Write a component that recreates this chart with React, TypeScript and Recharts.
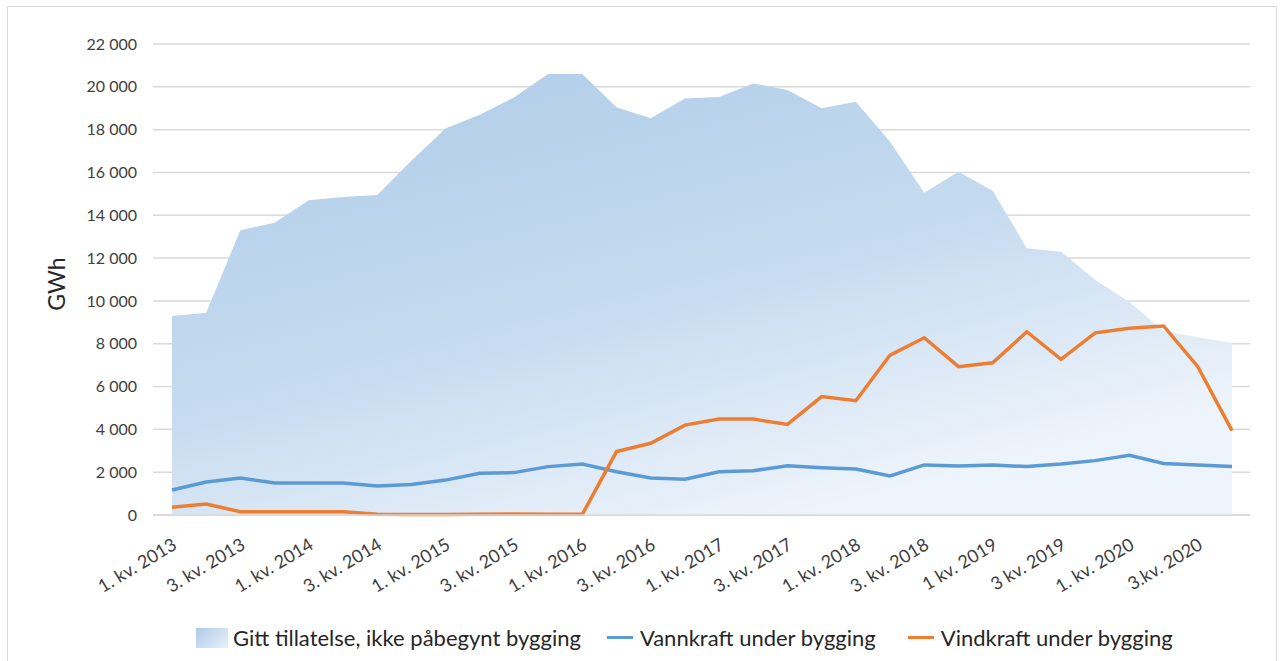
import React from 'react';
import { ComposedChart, Area, Line, XAxis, YAxis, CartesianGrid, Legend } from 'recharts';

// Kvartaler 2013-2020 (bare annenhver vises på aksen)
const quarters = [
  '1. kv. 2013', '2. kv. 2013', '3. kv. 2013', '4. kv. 2013',
  '1. kv. 2014', '2. kv. 2014', '3. kv. 2014', '4. kv. 2014',
  '1. kv. 2015', '2. kv. 2015', '3. kv. 2015', '4. kv. 2015',
  '1. kv. 2016', '2. kv. 2016', '3. kv. 2016', '4. kv. 2016',
  '1. kv. 2017', '2. kv. 2017', '3. kv. 2017', '4. kv. 2017',
  '1. kv. 2018', '2. kv. 2018', '3. kv. 2018', '4. kv. 2018',
  '1 kv. 2019', '2 kv. 2019', '3 kv. 2019', '4 kv. 2019',
  '1. kv. 2020', '2. kv. 2020', '3.kv. 2020', '4.kv. 2020',
];

const gittTillatelse = [
  9300, 9450, 13300, 13650, 14700, 14850, 14950, 16550,
  18050, 18700, 19500, 20600, 20600, 19050, 18530, 19450,
  19530, 20160, 19850, 19000, 19300, 17440, 15050, 16030,
  15150, 12460, 12300, 10980, 9950, 8600, 8300, 8030,
];

const vannkraft = [
  1170, 1540, 1730, 1490, 1490, 1490, 1350, 1430,
  1630, 1950, 1980, 2260, 2380, 2020, 1730, 1670,
  2020, 2070, 2300, 2210, 2150, 1820, 2340, 2290,
  2340, 2260, 2380, 2540, 2790, 2410, 2340, 2260,
];

const vindkraft = [
  360, 510, 155, 155, 155, 155, 30, 20,
  25, 30, 50, 30, 30, 2960, 3350, 4200,
  4480, 4480, 4230, 5530, 5340, 7470, 8280, 6930,
  7110, 8560, 7270, 8510, 8720, 8830, 6930, 3940,
];

const yTicks = [0, 2000, 4000, 6000, 8000, 10000, 12000, 14000, 16000, 18000, 20000, 22000];

const data = quarters.map((q, i) => ({
  quarter: q,
  gitt: gittTillatelse[i],
  vann: vannkraft[i],
  vind: vindkraft[i],
}));

const FONT = 'Lato, "Open Sans", sans-serif';
const BLUE = '#5b9bd5';
const ORANGE = '#ed7d31';

const fmt = (v: number) =>
  v >= 1000 ? `${Math.floor(v / 1000)} ${String(v % 1000).padStart(3, '0')}` : String(v);

const QuarterTick = (props: any) => {
  const { x, y, payload } = props;
  const tx = x + 6;
  const ty = y + 25;
  return (
    <text
      x={tx}
      y={ty}
      transform={`rotate(-31, ${tx}, ${ty})`}
      textAnchor="end"
      fontSize={18}
      fill="#404040"
      fontFamily={FONT}
    >
      {payload.value}
    </text>
  );
};

const YLabel = () => (
  <text
    x={65}
    y={284}
    transform="rotate(-90, 65, 284)"
    textAnchor="middle"
    fontSize={23}
    fill="#262626"
    fontFamily={FONT}
  >
    GWh
  </text>
);

const LegendContent = () => (
  <div
    style={{
      display: 'flex',
      alignItems: 'center',
      height: 71,
      paddingTop: 24,
      paddingLeft: 196,
      boxSizing: 'border-box',
      fontFamily: FONT,
      fontSize: 22,
      color: '#262626',
      whiteSpace: 'nowrap',
    }}
  >
    <span style={{ display: 'inline-block', width: 32, height: 20, background: 'linear-gradient(135deg, #aecbe8, #e8f1fa)', marginRight: 5 }} />
    <span style={{ marginRight: 26 }}>Gitt tillatelse, ikke påbegynt bygging</span>
    <span style={{ display: 'inline-block', width: 26, height: 3, background: BLUE, marginRight: 7 }} />
    <span style={{ marginRight: 32 }}>Vannkraft under bygging</span>
    <span style={{ display: 'inline-block', width: 26, height: 3, background: ORANGE, marginRight: 7 }} />
    <span>Vindkraft under bygging</span>
  </div>
);

export default function App() {
  return (
    <div style={{ position: 'fixed', left: 0, top: 0, width: 1282, height: 661, background: '#fff' }}>
      <div
        style={{
          position: 'absolute',
          left: 7,
          top: 6,
          width: 1270,
          height: 660,
          border: '1px solid #d9d9d9',
          boxSizing: 'border-box',
        }}
      />
      <div style={{ position: 'absolute', left: 0, top: 0 }}>
        <ComposedChart
          width={1282}
          height={661}
          data={data}
          margin={{ top: 44, right: 32, bottom: 0, left: 0 }}
        >
          <defs>
            <linearGradient id="gittFill" x1="0" y1="0" x2="0.6" y2="1">
              <stop offset="0%" stopColor="#aecbe8" />
              <stop offset="55%" stopColor="#c4daef" />
              <stop offset="100%" stopColor="#eef4fb" />
            </linearGradient>
          </defs>
          <CartesianGrid vertical={false} stroke="#d9d9d9" strokeWidth={1.5} />
          <XAxis
            dataKey="quarter"
            interval={1}
            height={75}
            padding={{ left: 19, right: 18 }}
            tick={<QuarterTick />}
            tickLine={false}
            axisLine={{ stroke: '#d9d9d9', strokeWidth: 1.5 }}
          />
          <YAxis
            width={153}
            domain={[0, 22000]}
            ticks={yTicks}
            tickFormatter={fmt}
            tickLine={false}
            axisLine={false}
            tickMargin={10}
            tick={{ fontSize: 16, fill: '#404040', fontFamily: FONT }}
            label={<YLabel />}
          />
          <Legend
            verticalAlign="bottom"
            content={<LegendContent />}
            wrapperStyle={{ left: 0, width: 1282 }}
          />
          <Area
            type="linear"
            dataKey="gitt"
            name="Gitt tillatelse, ikke påbegynt bygging"
            stroke="none"
            fill="url(#gittFill)"
            fillOpacity={1}
            isAnimationActive={false}
          />
          <Line
            type="linear"
            dataKey="vann"
            name="Vannkraft under bygging"
            stroke={BLUE}
            strokeWidth={3.5}
            dot={false}
            isAnimationActive={false}
          />
          <Line
            type="linear"
            dataKey="vind"
            name="Vindkraft under bygging"
            stroke={ORANGE}
            strokeWidth={3.5}
            dot={false}
            isAnimationActive={false}
          />
        </ComposedChart>
      </div>
    </div>
  );
}
